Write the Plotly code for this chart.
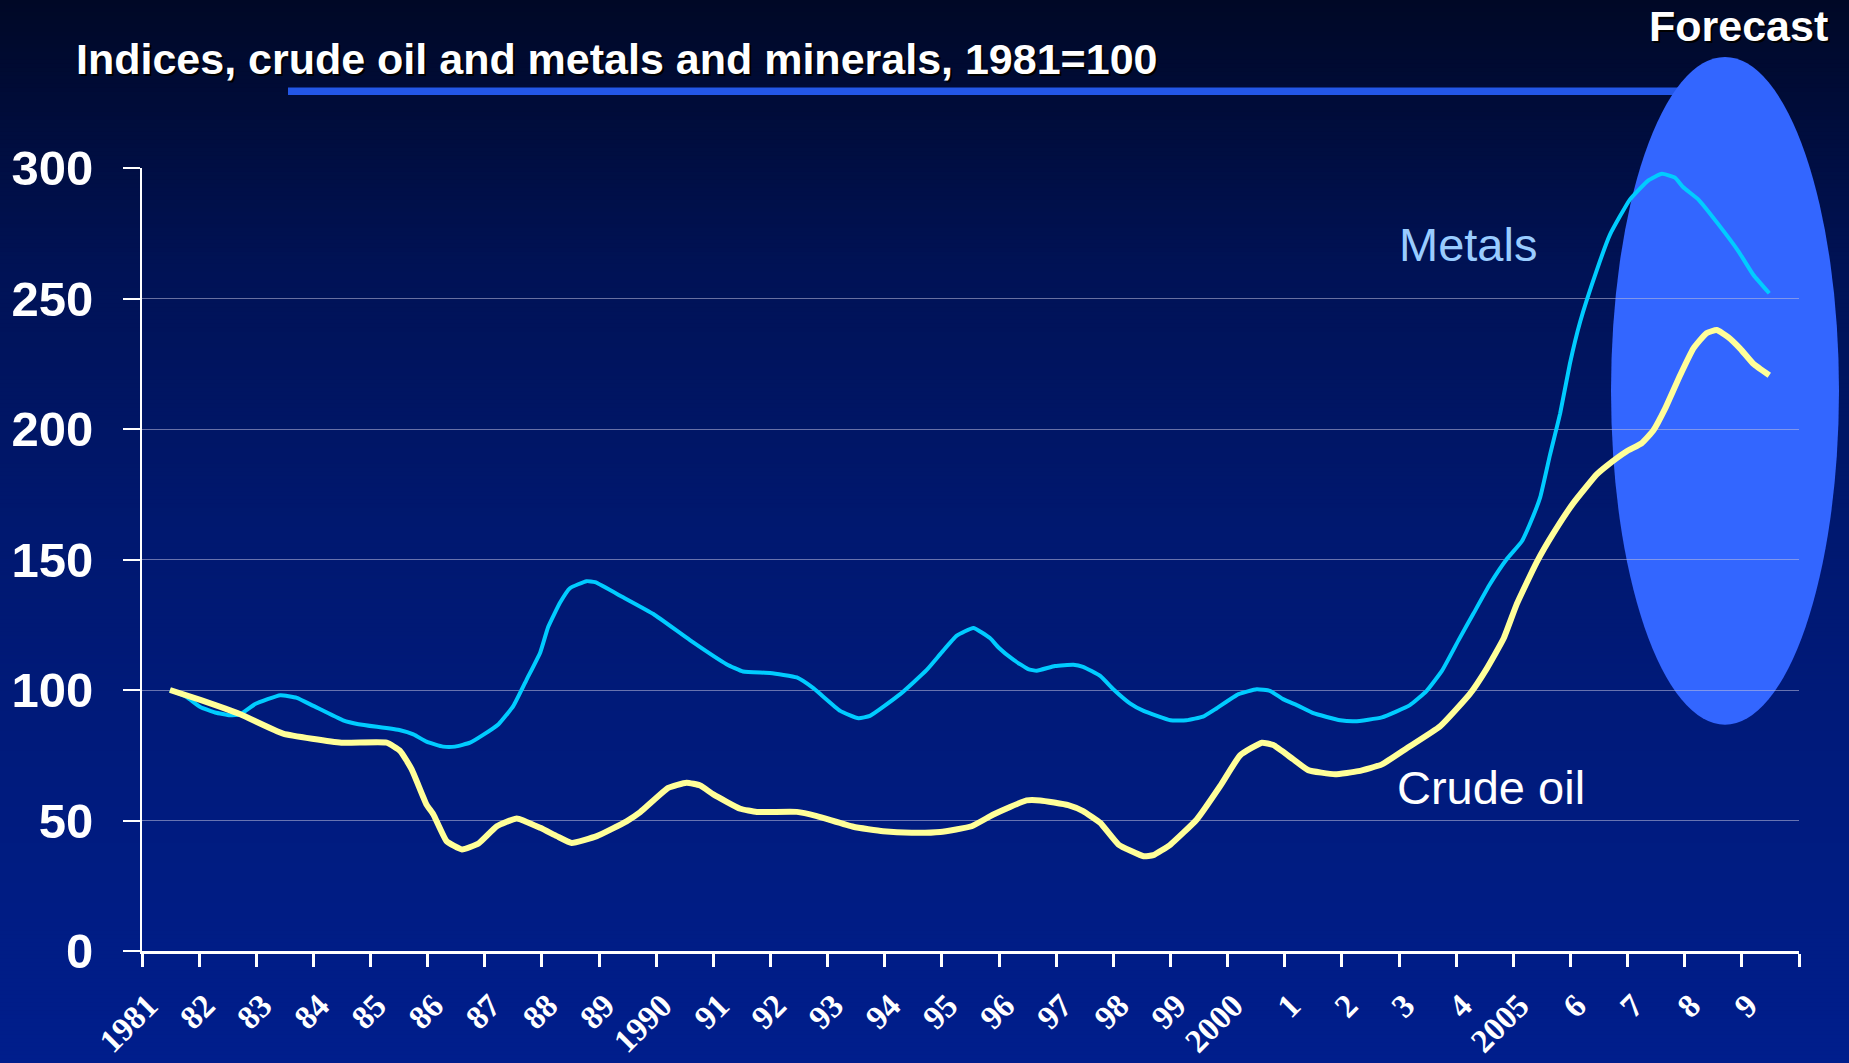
import plotly.graph_objects as go

# ---------------- data ----------------
metals_x = [1981.49, 1981.78, 1982.02, 1982.28, 1982.54, 1982.72, 1982.98, 1983.42, 1983.71, 1984.0,
            1984.52, 1984.79, 1985.52, 1985.75, 1985.98, 1986.27, 1986.48, 1986.74, 1986.97, 1987.24,
            1987.50, 1987.73, 1987.97, 1988.11, 1988.32, 1988.49, 1988.78, 1988.93, 1989.42, 1989.95,
            1990.59, 1991.23, 1991.52, 1991.99, 1992.46, 1992.75, 1993.22, 1993.54, 1993.74, 1994.27,
            1994.73, 1995.0, 1995.26, 1995.55, 1995.84, 1995.99, 1996.25, 1996.51, 1996.66, 1996.98,
            1997.30, 1997.47, 1997.77, 1998.0, 1998.29, 1998.53, 1999.0, 1999.28, 1999.57, 1999.81,
            2000.19, 2000.51, 2000.74, 2000.97, 2001.24, 2001.50, 2001.97, 2002.23, 2002.70, 2003.19,
            2003.48, 2003.75, 2004.04, 2004.30, 2004.59, 2004.88, 2005.15, 2005.29, 2005.47, 2005.64,
            2005.82, 2005.99, 2006.17, 2006.46, 2006.69, 2007.04, 2007.36, 2007.60, 2007.83, 2007.97,
            2008.24, 2008.59, 2008.94, 2009.20, 2009.48]
metals_y = [100.0, 97.3, 93.5, 91.4, 90.3, 90.7, 94.6, 98.0, 97.0, 93.9,
            88.4, 86.9, 84.6, 83.0, 80.2, 78.3, 78.3, 79.8, 82.8, 86.9,
            93.9, 103.9, 114.4, 124.2, 133.6, 139.0, 141.7, 141.3, 135.5, 129.1,
            119.1, 109.9, 107.1, 106.5, 104.8, 100.7, 92.0, 89.2, 90.1, 98.4,
            107.6, 114.5, 120.8, 123.8, 119.9, 116.3, 111.6, 108.0, 107.4, 109.2,
            109.7, 108.9, 105.4, 100.3, 94.9, 92.0, 88.4, 88.4, 89.8, 93.0,
            98.4, 100.3, 99.7, 96.5, 93.9, 91.1, 88.4, 88.0, 89.5, 94.2,
            99.6, 107.3, 119.0, 129.2, 140.5, 150.0, 157.0, 163.6, 173.8, 189.9,
            206.0, 225.0, 241.1, 260.8, 274.4, 287.9, 295.2, 297.8, 296.3, 292.7,
            287.9, 278.4, 268.1, 259.1, 252.0]

crude_x = [1981.49, 1982.02, 1982.72, 1983.47, 1984.49, 1985.28, 1985.52, 1985.72, 1985.98, 1986.10,
           1986.33, 1986.60, 1986.89, 1987.21, 1987.56, 1987.97, 1988.26, 1988.52, 1988.96, 1989.48,
           1989.72, 1990.21, 1990.53, 1990.77, 1991.0, 1991.47, 1991.76, 1992.46, 1992.81, 1993.45,
           1993.97, 1994.47, 1994.97, 1995.52, 1995.9, 1996.48, 1996.72, 1997.21, 1997.47, 1997.77,
           1998.09, 1998.53, 1998.70, 1999.0, 1999.46, 1999.87, 2000.22, 2000.60, 2000.80, 2001.15,
           2001.41, 2001.88, 2002.29, 2002.70, 2003.13, 2003.72, 2004.24, 2004.53, 2004.83, 2005.06,
           2005.41, 2005.70, 2006.05, 2006.46, 2006.63, 2006.98, 2007.25, 2007.45, 2007.65, 2007.92,
           2008.15, 2008.38, 2008.56, 2008.76, 2008.97, 2009.20, 2009.48]
crude_y = [100.0, 96.2, 90.7, 83.3, 79.8, 79.8, 76.6, 69.6, 56.1, 52.3,
           42.1, 38.9, 41.2, 47.8, 50.8, 47.2, 44.0, 41.4, 44.0, 49.7,
           53.2, 62.5, 64.5, 63.4, 60.0, 54.5, 53.3, 53.3, 51.7, 47.6,
           45.9, 45.3, 45.6, 47.8, 52.3, 57.7, 57.7, 55.9, 53.6, 49.1,
           40.8, 36.3, 36.7, 40.8, 50.4, 63.2, 75.0, 79.8, 78.9, 73.4,
           69.3, 67.7, 68.9, 71.5, 77.6, 86.1, 98.5, 108.0, 119.7, 132.9,
           149.0, 160.0, 171.6, 182.6, 185.8, 191.4, 194.6, 199.4, 207.5, 220.6,
           230.8, 236.7, 237.9, 235.2, 230.8, 225.0, 220.6]

tick_years = list(range(1981, 2011))
tick_labels = ["1981", "82", "83", "84", "85", "86", "87", "88", "89", "1990",
               "91", "92", "93", "94", "95", "96", "97", "98", "99", "2000",
               "1", "2", "3", "4", "2005", "6", "7", "8", "9", ""]
y_ticks = [0, 50, 100, 150, 200, 250, 300]

title_text = "Indices, crude oil and metals and minerals, 1981=100"

# ---------------- geometry helpers (pixels -> paper) ----------------
W, H = 1849, 1063
L, R = 142, 1799          # plot area left/right pixels
T, B = 168.1, 951.3       # plot area top/bottom pixels


def px(xp):
    return (xp - L) / (R - L)


def py(yp):
    return (B - yp) / (B - T)


fig = go.Figure()

fig.add_trace(go.Scatter(x=metals_x, y=metals_y, mode="lines", name="Metals",
                         line=dict(color="#00CCFF", width=4, shape="spline", smoothing=0.4)))
fig.add_trace(go.Scatter(x=crude_x, y=crude_y, mode="lines", name="Crude oil",
                         line=dict(color="#FFFF99", width=6, shape="spline", smoothing=0.4)))

shapes = []
# background vertical gradient
stops = [(0.0, (0, 8, 38)), (0.25, (0, 18, 85)), (0.5, (0, 24, 112)), (1.0, (0, 30, 140))]


def grad(t):
    for (t0, c0), (t1, c1) in zip(stops[:-1], stops[1:]):
        if t <= t1:
            f = (t - t0) / (t1 - t0)
            return tuple(round(a + (b - a) * f) for a, b in zip(c0, c1))
    return stops[-1][1]


nb = 266
for i in range(nb):
    y0p = H * i / nb - (20 if i == 0 else 0)
    y1p = H * (i + 1) / nb + (0.6 if i < nb - 1 else 20)
    c = grad((i + 0.5) / nb)
    shapes.append(dict(type="rect", xref="paper", yref="paper", layer="below",
                       x0=px(-20), x1=px(W + 20), y0=py(y1p), y1=py(y0p),
                       fillcolor="rgb(%d,%d,%d)" % c, line=dict(width=0)))
# title underline bar
shapes.append(dict(type="rect", xref="paper", yref="paper", layer="below",
                   x0=px(288), x1=px(1680), y0=py(95), y1=py(87.7),
                   fillcolor="#2357E6", line=dict(width=0)))
# forecast ellipse
shapes.append(dict(type="circle", xref="paper", yref="paper", layer="below",
                   x0=px(1611), x1=px(1839), y0=py(725), y1=py(57),
                   fillcolor="#3366FF", line=dict(width=0)))

annotations = [
    dict(text="<b>" + title_text + "</b>", xref="paper", yref="paper",
         x=px(76), y=py(61), xanchor="left", yanchor="middle", showarrow=False,
         font=dict(family="Liberation Sans, Arial", size=43, color="black")),
    dict(text="<b>" + title_text + "</b>", xref="paper", yref="paper",
         x=px(74), y=py(59), xanchor="left", yanchor="middle", showarrow=False,
         font=dict(family="Liberation Sans, Arial", size=43, color="white")),
    dict(text="<b>Forecast</b>", xref="paper", yref="paper",
         x=px(1832), y=py(28), xanchor="right", yanchor="middle", showarrow=False,
         font=dict(family="Liberation Sans, Arial", size=43, color="black")),
    dict(text="<b>Forecast</b>", xref="paper", yref="paper",
         x=px(1830), y=py(26), xanchor="right", yanchor="middle", showarrow=False,
         font=dict(family="Liberation Sans, Arial", size=43, color="white")),
    dict(text="Metals", xref="paper", yref="paper",
         x=px(1397), y=py(245), xanchor="left", yanchor="middle", showarrow=False,
         font=dict(family="Liberation Sans, Arial", size=47, color="#99CCFF")),
    dict(text="Crude oil", xref="paper", yref="paper",
         x=px(1395), y=py(788), xanchor="left", yanchor="middle", showarrow=False,
         font=dict(family="Liberation Sans, Arial", size=47, color="white")),
]

fig.update_layout(
    width=W, height=H,
    margin=dict(l=L, r=W - R, t=T, b=H - B, pad=0, autoexpand=False),
    paper_bgcolor="#001E8C",
    plot_bgcolor="rgba(0,0,0,0)",
    showlegend=False,
    shapes=shapes,
    annotations=annotations,
    xaxis=dict(range=[1981, 2010], tickmode="array", tickvals=tick_years, ticktext=tick_labels,
               ticks="outside", ticklen=13, tickwidth=3, tickcolor="white",
               tickangle=-45, ticklabelshift=6, ticklabelstandoff=6, automargin=False,
               tickfont=dict(family="Liberation Serif, Times New Roman", size=33, color="white",
                             weight="bold"),
               showline=True, linecolor="white", linewidth=3, showgrid=False, zeroline=False),
    yaxis=dict(range=[0, 300], tickmode="array", tickvals=y_ticks, automargin=False,
               ticks="outside", ticklen=17, tickwidth=2, tickcolor="white",
               ticklabelstandoff=20,
               tickfont=dict(family="Liberation Sans, Arial", size=49, color="white", weight="bold"),
               showline=True, linecolor="white", linewidth=2,
               showgrid=True, gridcolor="rgba(190,190,220,0.55)", gridwidth=1, zeroline=False),
)

fig.write_html("out.html", config={"displayModeBar": False},
               post_script="document.body.style.margin='0';document.body.style.overflow='hidden';")
